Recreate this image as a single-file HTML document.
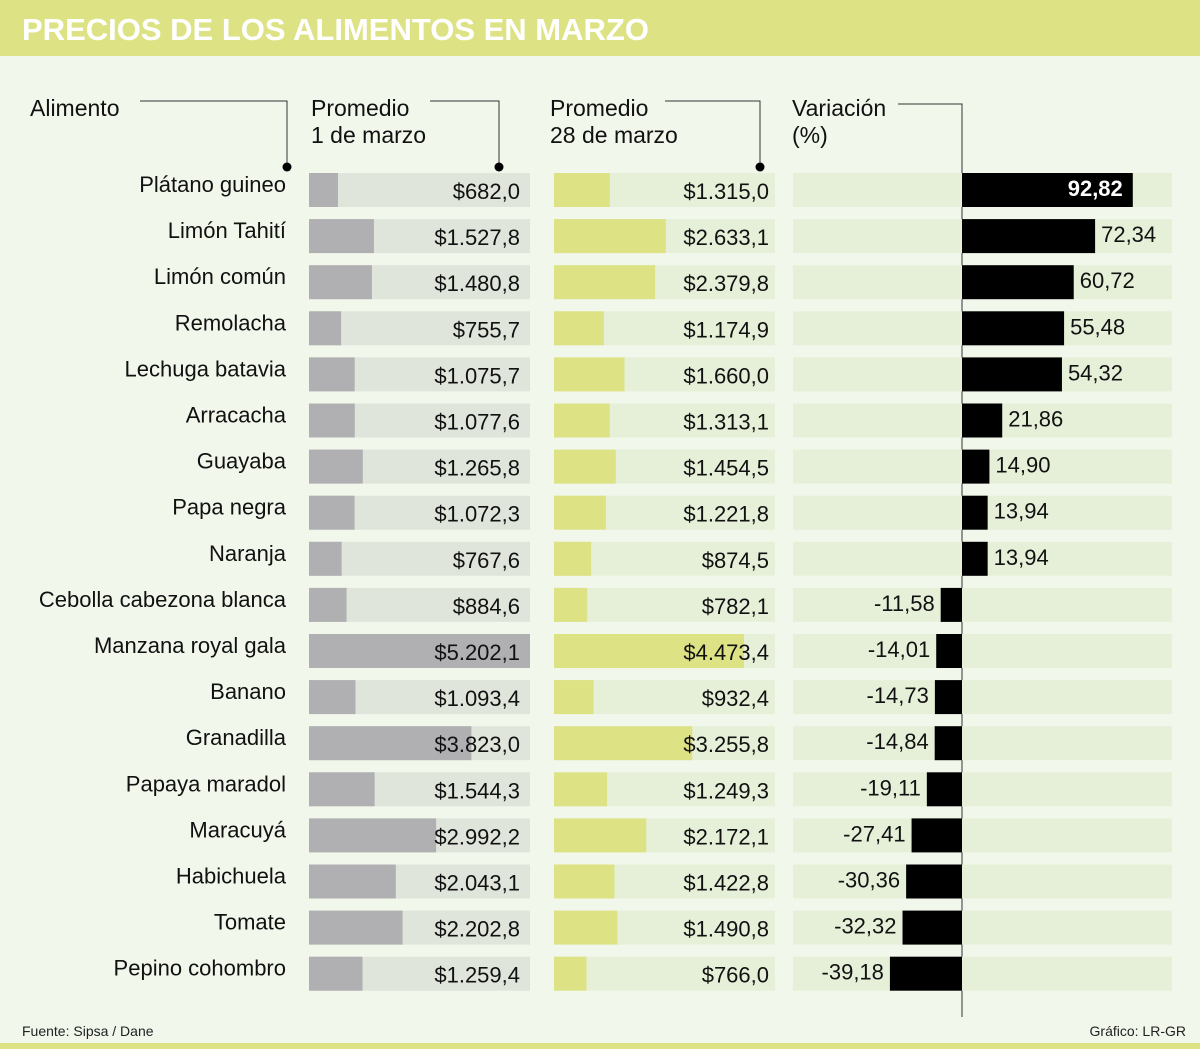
<!DOCTYPE html>
<html><head><meta charset="utf-8"><style>
html,body{margin:0;padding:0;background:#f2f7ec;}
svg{display:block;font-family:"Liberation Sans",sans-serif;}
</style></head><body>
<svg id="c" width="1200" height="1049" viewBox="0 0 1200 1049">
<rect x="0" y="0" width="1200" height="1049" fill="#f2f7ec"/>
<rect x="0" y="0" width="1200" height="56" fill="#dde385"/>
<text x="22" y="40" font-size="31" font-weight="bold" fill="#fff">PRECIOS DE LOS ALIMENTOS EN MARZO</text>
<rect x="0" y="1043" width="1200" height="6" fill="#dde385"/>
<g font-size="23" fill="#111">
<text x="30" y="116">Alimento</text>
<text x="311" y="116">Promedio</text>
<text x="311" y="143">1 de marzo</text>
<text x="550" y="116">Promedio</text>
<text x="550" y="143">28 de marzo</text>
<text x="792" y="116">Variación</text>
<text x="792" y="143">(%)</text>
</g>
<g stroke="#333" stroke-width="1" fill="none">
<polyline points="140,101 287,101 287,166"/>
<polyline points="430,101 499,101 499,166"/>
<polyline points="665,101 760,101 760,166"/>
<polyline points="898,104 962,104 962,1017"/>
</g>
<g fill="#000">
<circle cx="287" cy="167" r="4.5"/>
<circle cx="499" cy="167" r="4.5"/>
<circle cx="760" cy="167" r="4.5"/>
</g>
<g id="rows"></g>
<text x="22" y="1036" font-size="14" fill="#222">Fuente: Sipsa / Dane</text>
<text x="1186" y="1036" font-size="14" fill="#222" text-anchor="end">Gráfico: LR-GR</text>
</svg>
<script>
const categories=["Plátano guineo","Limón Tahití","Limón común","Remolacha","Lechuga batavia","Arracacha","Guayaba","Papa negra","Naranja","Cebolla cabezona blanca","Manzana royal gala","Banano","Granadilla","Papaya maradol","Maracuyá","Habichuela","Tomate","Pepino cohombro"];
const price1=[682.0,1527.8,1480.8,755.7,1075.7,1077.6,1265.8,1072.3,767.6,884.6,5202.1,1093.4,3823.0,1544.3,2992.2,2043.1,2202.8,1259.4];
const price28=[1315.0,2633.1,2379.8,1174.9,1660.0,1313.1,1454.5,1221.8,874.5,782.1,4473.4,932.4,3255.8,1249.3,2172.1,1422.8,1490.8,766.0];
const variation=[92.82,72.34,60.72,55.48,54.32,21.86,14.90,13.94,13.94,-11.58,-14.01,-14.73,-14.84,-19.11,-27.41,-30.36,-32.32,-39.18];

const NS="http://www.w3.org/2000/svg";
const g=document.getElementById('rows');
const y0=173,step=46.1,bh=34;
const priceMax=5202.1;
const priceScale=v=>v/priceMax*221;
const varScale=v=>v*1.84;
const fmtPrice=v=>{let s=v.toFixed(1).split('.');return '$'+s[0].replace(/\B(?=(\d{3})+(?!\d))/g,'.')+','+s[1];};
const fmtVar=v=>v.toFixed(2).replace('.',',');
function mk(tag,attrs,txt){const e=document.createElementNS(NS,tag);for(const k in attrs)e.setAttribute(k,attrs[k]);if(txt!=null)e.textContent=txt;g.appendChild(e);return e;}
categories.forEach((c,i)=>{
  const y=y0+i*step;
  let e;
  e=mk('text',{x:286,y:y+19,'font-size':22,fill:'#111','text-anchor':'end'},c);
  
  
  e=mk('rect',{x:309,y:y,width:221,height:bh,fill:'#e0e5dc'});
  
  
  e=mk('rect',{x:309,y:y,width:priceScale(price1[i]),height:bh,fill:'#b0afb1'});
  
  
  e=mk('text',{x:520,y:y+26,'font-size':22,fill:'#111','text-anchor':'end'},fmtPrice(price1[i]));
  
  
  e=mk('rect',{x:554,y:y,width:221,height:bh,fill:'#e6f0d9'});
  
  
  e=mk('rect',{x:554,y:y,width:priceScale(price28[i]),height:bh,fill:'#dde385'});
  
  
  e=mk('text',{x:769,y:y+26,'font-size':22,fill:'#111','text-anchor':'end'},fmtPrice(price28[i]));
  
  
  e=mk('rect',{x:793,y:y,width:379,height:bh,fill:'#e6f0d9'});
  
  
  const v=variation[i],w=Math.abs(varScale(v));
  const bx=v>=0?962:962-w;
  e=mk('rect',{x:bx,y:y,width:w,height:bh,fill:'#000'});
  
  
  let lx,anchor,fill='#111',fw='normal';
  if(v>=0){ if(w>150){lx=962+w-10;anchor='end';fill='#fff';fw='bold';} else {lx=962+w+6;anchor='start';} }
  else {lx=962-w-6;anchor='end';}
  e=mk('text',{x:lx,y:y+23,'font-size':22,fill:fill,'font-weight':fw,'text-anchor':anchor},fmtVar(v));
  
  
});
</script>
</body></html>
